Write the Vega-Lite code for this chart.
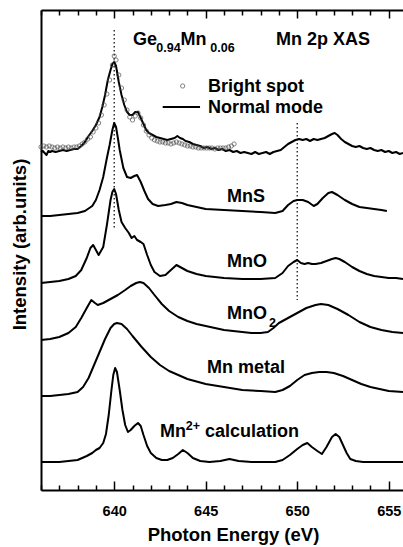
{
"$schema": "https://vega.github.io/schema/vega-lite/v6.json",
"width": 362, "height": 480,
"autosize": "none",
"padding": {"left": 41, "top": 10, "right": 0, "bottom": 57},
"background": "white",
"config": {"view": {"stroke": null}, "font": "Liberation Sans",
 "axis": {"domainColor": "black", "domainWidth": 2, "tickColor": "black", "labelColor": "black", "titleColor": "black", "grid": false, "labelFont": "Liberation Sans", "titleFont": "Liberation Sans", "labelFontWeight": "bold", "titleFontWeight": "bold"}},
"datasets": {
"curves": [
{"E":636.0,"I":338,"s":"ge"},{"E":636.1,"I":339,"s":"ge"},{"E":636.2,"I":337,"s":"ge"},{"E":636.3,"I":335,"s":"ge"},{"E":636.4,"I":339,"s":"ge"},{"E":636.5,"I":338,"s":"ge"},{"E":636.6,"I":339,"s":"ge"},{"E":636.8,"I":338,"s":"ge"},{"E":637.0,"I":339,"s":"ge"},{"E":637.2,"I":340,"s":"ge"},{"E":637.4,"I":339,"s":"ge"},{"E":637.6,"I":340,"s":"ge"},{"E":637.8,"I":341,"s":"ge"},{"E":638.0,"I":341,"s":"ge"},{"E":638.2,"I":344,"s":"ge"},{"E":638.4,"I":348,"s":"ge"},{"E":638.6,"I":354,"s":"ge"},{"E":638.8,"I":359,"s":"ge"},{"E":639.0,"I":365,"s":"ge"},{"E":639.2,"I":373,"s":"ge"},{"E":639.35,"I":383,"s":"ge"},{"E":639.5,"I":395,"s":"ge"},{"E":639.65,"I":410,"s":"ge"},{"E":639.8,"I":420,"s":"ge"},{"E":639.9,"I":426,"s":"ge"},{"E":640.0,"I":428,"s":"ge"},{"E":640.1,"I":424,"s":"ge"},{"E":640.25,"I":408,"s":"ge"},{"E":640.4,"I":395,"s":"ge"},{"E":640.55,"I":385,"s":"ge"},{"E":640.7,"I":378,"s":"ge"},{"E":640.85,"I":375,"s":"ge"},{"E":641.0,"I":375,"s":"ge"},{"E":641.15,"I":378,"s":"ge"},{"E":641.3,"I":378,"s":"ge"},{"E":641.45,"I":372,"s":"ge"},{"E":641.6,"I":366,"s":"ge"},{"E":641.75,"I":360,"s":"ge"},{"E":641.9,"I":357,"s":"ge"},{"E":642.1,"I":355,"s":"ge"},{"E":642.3,"I":353,"s":"ge"},{"E":642.5,"I":352,"s":"ge"},{"E":642.7,"I":351,"s":"ge"},{"E":642.9,"I":350,"s":"ge"},{"E":643.1,"I":351,"s":"ge"},{"E":643.3,"I":352,"s":"ge"},{"E":643.45,"I":354,"s":"ge"},{"E":643.6,"I":352,"s":"ge"},{"E":643.75,"I":351,"s":"ge"},{"E":643.9,"I":349,"s":"ge"},{"E":644.1,"I":348,"s":"ge"},{"E":644.3,"I":346,"s":"ge"},{"E":644.5,"I":345,"s":"ge"},{"E":644.7,"I":344,"s":"ge"},{"E":644.9,"I":342,"s":"ge"},{"E":645.1,"I":343,"s":"ge"},{"E":645.3,"I":341,"s":"ge"},{"E":645.5,"I":342,"s":"ge"},{"E":645.7,"I":340,"s":"ge"},{"E":645.9,"I":341,"s":"ge"},{"E":646.1,"I":339,"s":"ge"},{"E":646.3,"I":340,"s":"ge"},{"E":646.5,"I":338,"s":"ge"},{"E":646.7,"I":339,"s":"ge"},{"E":646.9,"I":337,"s":"ge"},{"E":647.1,"I":338,"s":"ge"},{"E":647.3,"I":337,"s":"ge"},{"E":647.5,"I":336,"s":"ge"},{"E":647.7,"I":338,"s":"ge"},{"E":647.9,"I":336,"s":"ge"},{"E":648.1,"I":337,"s":"ge"},{"E":648.3,"I":338,"s":"ge"},{"E":648.5,"I":336,"s":"ge"},{"E":648.7,"I":338,"s":"ge"},{"E":648.9,"I":339,"s":"ge"},{"E":649.1,"I":340,"s":"ge"},{"E":649.3,"I":343,"s":"ge"},{"E":649.5,"I":346,"s":"ge"},{"E":649.7,"I":348,"s":"ge"},{"E":649.9,"I":350,"s":"ge"},{"E":650.1,"I":351,"s":"ge"},{"E":650.3,"I":350,"s":"ge"},{"E":650.5,"I":351,"s":"ge"},{"E":650.7,"I":349,"s":"ge"},{"E":650.9,"I":351,"s":"ge"},{"E":651.1,"I":350,"s":"ge"},{"E":651.3,"I":351,"s":"ge"},{"E":651.5,"I":352,"s":"ge"},{"E":651.7,"I":354,"s":"ge"},{"E":651.9,"I":356,"s":"ge"},{"E":652.05,"I":357,"s":"ge"},{"E":652.2,"I":355,"s":"ge"},{"E":652.4,"I":351,"s":"ge"},{"E":652.6,"I":348,"s":"ge"},{"E":652.8,"I":346,"s":"ge"},{"E":653.0,"I":344,"s":"ge"},{"E":653.2,"I":343,"s":"ge"},{"E":653.4,"I":344,"s":"ge"},{"E":653.6,"I":342,"s":"ge"},{"E":653.8,"I":341,"s":"ge"},{"E":654.0,"I":342,"s":"ge"},{"E":654.2,"I":340,"s":"ge"},{"E":654.4,"I":339,"s":"ge"},{"E":654.6,"I":340,"s":"ge"},{"E":654.8,"I":338,"s":"ge"},{"E":655.0,"I":339,"s":"ge"},{"E":655.2,"I":337,"s":"ge"},{"E":655.4,"I":338,"s":"ge"},{"E":655.6,"I":336,"s":"ge"},{"E":655.78,"I":337,"s":"ge"},
{"E":636.0,"I":274,"s":"mns"},{"E":636.5,"I":274,"s":"mns"},{"E":637.0,"I":275,"s":"mns"},{"E":637.5,"I":276,"s":"mns"},{"E":638.0,"I":277,"s":"mns"},{"E":638.4,"I":279,"s":"mns"},{"E":638.8,"I":284,"s":"mns"},{"E":639.0,"I":290,"s":"mns"},{"E":639.2,"I":300,"s":"mns"},{"E":639.4,"I":313,"s":"mns"},{"E":639.6,"I":332,"s":"mns"},{"E":639.75,"I":345,"s":"mns"},{"E":639.9,"I":360,"s":"mns"},{"E":640.0,"I":367,"s":"mns"},{"E":640.1,"I":363,"s":"mns"},{"E":640.2,"I":352,"s":"mns"},{"E":640.3,"I":340,"s":"mns"},{"E":640.5,"I":322,"s":"mns"},{"E":640.7,"I":313,"s":"mns"},{"E":640.9,"I":312,"s":"mns"},{"E":641.1,"I":314,"s":"mns"},{"E":641.25,"I":315,"s":"mns"},{"E":641.45,"I":308,"s":"mns"},{"E":641.65,"I":299,"s":"mns"},{"E":641.85,"I":291,"s":"mns"},{"E":642.1,"I":286,"s":"mns"},{"E":642.4,"I":284,"s":"mns"},{"E":642.8,"I":285,"s":"mns"},{"E":643.1,"I":286,"s":"mns"},{"E":643.4,"I":288,"s":"mns"},{"E":643.7,"I":287,"s":"mns"},{"E":644.0,"I":285,"s":"mns"},{"E":644.5,"I":283,"s":"mns"},{"E":645.0,"I":281,"s":"mns"},{"E":646.0,"I":280,"s":"mns"},{"E":647.0,"I":279,"s":"mns"},{"E":648.0,"I":278,"s":"mns"},{"E":648.8,"I":277,"s":"mns"},{"E":649.2,"I":279,"s":"mns"},{"E":649.5,"I":285,"s":"mns"},{"E":649.8,"I":289,"s":"mns"},{"E":650.0,"I":290,"s":"mns"},{"E":650.3,"I":290,"s":"mns"},{"E":650.6,"I":288,"s":"mns"},{"E":650.9,"I":284,"s":"mns"},{"E":651.1,"I":286,"s":"mns"},{"E":651.4,"I":292,"s":"mns"},{"E":651.7,"I":297,"s":"mns"},{"E":651.9,"I":298,"s":"mns"},{"E":652.2,"I":295,"s":"mns"},{"E":652.6,"I":290,"s":"mns"},{"E":653.0,"I":286,"s":"mns"},{"E":653.4,"I":283,"s":"mns"},{"E":653.8,"I":282,"s":"mns"},{"E":654.2,"I":281,"s":"mns"},{"E":654.6,"I":280,"s":"mns"},{"E":654.9,"I":279,"s":"mns"},
{"E":636.0,"I":207,"s":"mno"},{"E":636.5,"I":208,"s":"mno"},{"E":637.0,"I":209,"s":"mno"},{"E":637.5,"I":211,"s":"mno"},{"E":637.9,"I":214,"s":"mno"},{"E":638.2,"I":220,"s":"mno"},{"E":638.5,"I":232,"s":"mno"},{"E":638.7,"I":242,"s":"mno"},{"E":638.85,"I":245,"s":"mno"},{"E":639.0,"I":240,"s":"mno"},{"E":639.15,"I":235,"s":"mno"},{"E":639.4,"I":243,"s":"mno"},{"E":639.6,"I":265,"s":"mno"},{"E":639.8,"I":290,"s":"mno"},{"E":639.9,"I":298,"s":"mno"},{"E":640.0,"I":301,"s":"mno"},{"E":640.1,"I":296,"s":"mno"},{"E":640.25,"I":280,"s":"mno"},{"E":640.4,"I":268,"s":"mno"},{"E":640.6,"I":262,"s":"mno"},{"E":640.8,"I":257,"s":"mno"},{"E":640.95,"I":252,"s":"mno"},{"E":641.1,"I":254,"s":"mno"},{"E":641.25,"I":250,"s":"mno"},{"E":641.45,"I":248,"s":"mno"},{"E":641.6,"I":246,"s":"mno"},{"E":641.8,"I":235,"s":"mno"},{"E":642.0,"I":225,"s":"mno"},{"E":642.2,"I":218,"s":"mno"},{"E":642.5,"I":214,"s":"mno"},{"E":642.8,"I":215,"s":"mno"},{"E":643.1,"I":220,"s":"mno"},{"E":643.4,"I":225,"s":"mno"},{"E":643.7,"I":222,"s":"mno"},{"E":644.0,"I":219,"s":"mno"},{"E":644.5,"I":216,"s":"mno"},{"E":645.0,"I":214,"s":"mno"},{"E":645.5,"I":213,"s":"mno"},{"E":646.0,"I":212,"s":"mno"},{"E":647.0,"I":211,"s":"mno"},{"E":648.0,"I":211,"s":"mno"},{"E":648.8,"I":212,"s":"mno"},{"E":649.2,"I":217,"s":"mno"},{"E":649.5,"I":224,"s":"mno"},{"E":649.8,"I":228,"s":"mno"},{"E":650.0,"I":230,"s":"mno"},{"E":650.2,"I":227,"s":"mno"},{"E":650.4,"I":226,"s":"mno"},{"E":650.6,"I":227,"s":"mno"},{"E":650.8,"I":226,"s":"mno"},{"E":651.0,"I":226,"s":"mno"},{"E":651.3,"I":227,"s":"mno"},{"E":651.6,"I":229,"s":"mno"},{"E":651.9,"I":231,"s":"mno"},{"E":652.1,"I":232,"s":"mno"},{"E":652.3,"I":231,"s":"mno"},{"E":652.6,"I":228,"s":"mno"},{"E":653.0,"I":223,"s":"mno"},{"E":653.4,"I":219,"s":"mno"},{"E":653.8,"I":216,"s":"mno"},{"E":654.2,"I":214,"s":"mno"},{"E":654.6,"I":213,"s":"mno"},{"E":655.0,"I":212,"s":"mno"},{"E":655.4,"I":212,"s":"mno"},{"E":655.78,"I":211,"s":"mno"},
{"E":636.0,"I":150,"s":"mno2"},{"E":636.5,"I":151,"s":"mno2"},{"E":637.0,"I":153,"s":"mno2"},{"E":637.5,"I":157,"s":"mno2"},{"E":637.9,"I":163,"s":"mno2"},{"E":638.2,"I":172,"s":"mno2"},{"E":638.5,"I":182,"s":"mno2"},{"E":638.75,"I":190,"s":"mno2"},{"E":638.95,"I":187,"s":"mno2"},{"E":639.1,"I":185,"s":"mno2"},{"E":639.4,"I":187,"s":"mno2"},{"E":639.8,"I":191,"s":"mno2"},{"E":640.2,"I":195,"s":"mno2"},{"E":640.6,"I":200,"s":"mno2"},{"E":640.9,"I":204,"s":"mno2"},{"E":641.2,"I":207,"s":"mno2"},{"E":641.4,"I":208,"s":"mno2"},{"E":641.6,"I":207,"s":"mno2"},{"E":641.9,"I":202,"s":"mno2"},{"E":642.2,"I":195,"s":"mno2"},{"E":642.6,"I":186,"s":"mno2"},{"E":643.0,"I":179,"s":"mno2"},{"E":643.5,"I":173,"s":"mno2"},{"E":644.0,"I":169,"s":"mno2"},{"E":644.5,"I":166,"s":"mno2"},{"E":645.0,"I":164,"s":"mno2"},{"E":645.5,"I":162,"s":"mno2"},{"E":646.0,"I":160,"s":"mno2"},{"E":646.5,"I":159,"s":"mno2"},{"E":647.0,"I":158,"s":"mno2"},{"E":647.5,"I":157,"s":"mno2"},{"E":648.0,"I":157,"s":"mno2"},{"E":648.4,"I":158,"s":"mno2"},{"E":648.7,"I":162,"s":"mno2"},{"E":649.0,"I":167,"s":"mno2"},{"E":649.5,"I":172,"s":"mno2"},{"E":650.0,"I":177,"s":"mno2"},{"E":650.5,"I":182,"s":"mno2"},{"E":651.0,"I":185,"s":"mno2"},{"E":651.3,"I":186,"s":"mno2"},{"E":651.7,"I":185,"s":"mno2"},{"E":652.2,"I":181,"s":"mno2"},{"E":652.8,"I":175,"s":"mno2"},{"E":653.4,"I":168,"s":"mno2"},{"E":654.0,"I":163,"s":"mno2"},{"E":654.6,"I":160,"s":"mno2"},{"E":655.2,"I":158,"s":"mno2"},{"E":655.78,"I":157,"s":"mno2"},
{"E":636.0,"I":94,"s":"mn"},{"E":636.5,"I":94,"s":"mn"},{"E":637.0,"I":95,"s":"mn"},{"E":637.5,"I":96,"s":"mn"},{"E":638.0,"I":98,"s":"mn"},{"E":638.3,"I":103,"s":"mn"},{"E":638.6,"I":112,"s":"mn"},{"E":638.9,"I":125,"s":"mn"},{"E":639.2,"I":138,"s":"mn"},{"E":639.5,"I":151,"s":"mn"},{"E":639.8,"I":162,"s":"mn"},{"E":640.0,"I":166,"s":"mn"},{"E":640.15,"I":167,"s":"mn"},{"E":640.4,"I":166,"s":"mn"},{"E":640.7,"I":161,"s":"mn"},{"E":641.0,"I":154,"s":"mn"},{"E":641.5,"I":143,"s":"mn"},{"E":642.0,"I":133,"s":"mn"},{"E":642.5,"I":125,"s":"mn"},{"E":643.0,"I":119,"s":"mn"},{"E":643.5,"I":115,"s":"mn"},{"E":644.0,"I":111,"s":"mn"},{"E":645.0,"I":106,"s":"mn"},{"E":646.0,"I":103,"s":"mn"},{"E":647.0,"I":100,"s":"mn"},{"E":648.0,"I":99,"s":"mn"},{"E":648.8,"I":98,"s":"mn"},{"E":649.2,"I":100,"s":"mn"},{"E":649.6,"I":104,"s":"mn"},{"E":650.0,"I":110,"s":"mn"},{"E":650.4,"I":115,"s":"mn"},{"E":650.8,"I":117,"s":"mn"},{"E":651.2,"I":118,"s":"mn"},{"E":651.6,"I":118,"s":"mn"},{"E":652.0,"I":117,"s":"mn"},{"E":652.5,"I":114,"s":"mn"},{"E":653.0,"I":110,"s":"mn"},{"E":653.5,"I":106,"s":"mn"},{"E":654.0,"I":103,"s":"mn"},{"E":654.5,"I":101,"s":"mn"},{"E":655.0,"I":99,"s":"mn"},{"E":655.78,"I":98,"s":"mn"},
{"E":636.0,"I":28,"s":"calc"},{"E":636.5,"I":28,"s":"calc"},{"E":637.0,"I":28,"s":"calc"},{"E":637.5,"I":29,"s":"calc"},{"E":638.0,"I":30,"s":"calc"},{"E":638.5,"I":34,"s":"calc"},{"E":638.8,"I":37,"s":"calc"},{"E":639.0,"I":40,"s":"calc"},{"E":639.2,"I":42,"s":"calc"},{"E":639.4,"I":47,"s":"calc"},{"E":639.55,"I":56,"s":"calc"},{"E":639.7,"I":75,"s":"calc"},{"E":639.85,"I":100,"s":"calc"},{"E":639.95,"I":115,"s":"calc"},{"E":640.05,"I":122,"s":"calc"},{"E":640.15,"I":118,"s":"calc"},{"E":640.3,"I":100,"s":"calc"},{"E":640.45,"I":80,"s":"calc"},{"E":640.6,"I":65,"s":"calc"},{"E":640.75,"I":58,"s":"calc"},{"E":640.9,"I":60,"s":"calc"},{"E":641.1,"I":64,"s":"calc"},{"E":641.3,"I":67,"s":"calc"},{"E":641.45,"I":64,"s":"calc"},{"E":641.6,"I":55,"s":"calc"},{"E":641.8,"I":44,"s":"calc"},{"E":642.0,"I":37,"s":"calc"},{"E":642.3,"I":32,"s":"calc"},{"E":642.6,"I":30,"s":"calc"},{"E":642.9,"I":30,"s":"calc"},{"E":643.2,"I":32,"s":"calc"},{"E":643.5,"I":36,"s":"calc"},{"E":643.75,"I":40,"s":"calc"},{"E":644.0,"I":37,"s":"calc"},{"E":644.3,"I":32,"s":"calc"},{"E":644.7,"I":29,"s":"calc"},{"E":645.2,"I":28,"s":"calc"},{"E":645.8,"I":29,"s":"calc"},{"E":646.3,"I":31,"s":"calc"},{"E":646.8,"I":29,"s":"calc"},{"E":647.5,"I":28,"s":"calc"},{"E":648.0,"I":28,"s":"calc"},{"E":648.8,"I":28,"s":"calc"},{"E":649.2,"I":30,"s":"calc"},{"E":649.6,"I":35,"s":"calc"},{"E":650.0,"I":41,"s":"calc"},{"E":650.3,"I":45,"s":"calc"},{"E":650.55,"I":47,"s":"calc"},{"E":650.8,"I":43,"s":"calc"},{"E":651.1,"I":39,"s":"calc"},{"E":651.35,"I":36,"s":"calc"},{"E":651.6,"I":43,"s":"calc"},{"E":651.9,"I":53,"s":"calc"},{"E":652.1,"I":56,"s":"calc"},{"E":652.3,"I":53,"s":"calc"},{"E":652.5,"I":45,"s":"calc"},{"E":652.7,"I":37,"s":"calc"},{"E":652.9,"I":31,"s":"calc"},{"E":653.2,"I":29,"s":"calc"},{"E":653.6,"I":28,"s":"calc"},{"E":654.5,"I":28,"s":"calc"},{"E":655.78,"I":28,"s":"calc"}
],
"bright": [
{"E":636.0,"I":343},{"E":636.15,"I":344},{"E":636.3,"I":343},{"E":636.45,"I":344},{"E":636.6,"I":343},{"E":636.75,"I":342},{"E":636.9,"I":343},{"E":637.05,"I":342},{"E":637.2,"I":343},{"E":637.35,"I":342},{"E":637.5,"I":343},{"E":637.65,"I":342},{"E":637.8,"I":343},{"E":637.95,"I":343},{"E":638.1,"I":344},{"E":638.25,"I":346},{"E":638.4,"I":348},{"E":638.55,"I":351},{"E":638.7,"I":353},{"E":638.85,"I":358},{"E":639.0,"I":362},{"E":639.15,"I":367},{"E":639.3,"I":375},{"E":639.45,"I":385},{"E":639.6,"I":396},{"E":639.75,"I":410},{"E":639.9,"I":425},{"E":640.0,"I":434},{"E":640.1,"I":430},{"E":640.25,"I":415},{"E":640.4,"I":402},{"E":640.55,"I":390},{"E":640.7,"I":380},{"E":640.85,"I":373},{"E":641.0,"I":370},{"E":641.15,"I":374},{"E":641.3,"I":377},{"E":641.45,"I":372},{"E":641.6,"I":365},{"E":641.75,"I":359},{"E":641.9,"I":355},{"E":642.05,"I":352},{"E":642.2,"I":350},{"E":642.35,"I":349},{"E":642.5,"I":348},{"E":642.65,"I":348},{"E":642.8,"I":347},{"E":642.95,"I":347},{"E":643.1,"I":346},{"E":643.25,"I":347},{"E":643.4,"I":348},{"E":643.55,"I":347},{"E":643.7,"I":346},{"E":643.85,"I":345},{"E":644.0,"I":344},{"E":644.15,"I":344},{"E":644.3,"I":343},{"E":644.45,"I":343},{"E":644.6,"I":342},{"E":644.75,"I":342},{"E":644.9,"I":342},{"E":645.05,"I":342},{"E":645.2,"I":342},{"E":645.35,"I":342},{"E":645.5,"I":341},{"E":645.65,"I":342},{"E":645.8,"I":342},{"E":645.95,"I":342},{"E":646.1,"I":342},{"E":646.25,"I":343},{"E":646.4,"I":344},{"E":646.55,"I":346}
],
"guides": [{"E":640,"I":460,"I2":260},{"E":650,"I":367,"I2":190}],
"legPoint": [{"E":643.74,"I":404}],
"legLine": [{"E":642.65,"I":383},{"E":644.69,"I":383}],
"bigText": [
{"E":641.03,"I":445,"t":"Ge"},{"E":643.62,"I":445,"t":"Mn"},{"E":648.84,"I":445,"t":"Mn 2p XAS"},{"E":645.13,"I":398,"t":"Bright spot"},{"E":645.13,"I":377,"t":"Normal mode"},{"E":646.16,"I":288,"t":"MnS"},{"E":646.16,"I":223,"t":"MnO"},{"E":646.16,"I":171,"t":"MnO"},{"E":645.07,"I":117,"t":"Mn metal"},{"E":642.5,"I":53,"t":"Mn"},{"E":644.96,"I":53,"t":"calculation"}
],
"smallText": [
{"E":642.3,"I":438,"t":"0.94"},{"E":645.25,"I":438,"t":"0.06"},{"E":648.46,"I":163,"t":"2"},{"E":643.91,"I":60,"t":"2+"}
]
},
"encoding": {
 "x": {"field": "E", "type": "quantitative", "scale": {"domain": [636, 655.78], "nice": false, "zero": false}, "axis": null},
 "y": {"field": "I", "type": "quantitative", "scale": {"domain": [0, 480], "nice": false, "zero": false},
   "axis": {"title": "Intensity (arb.units)", "ticks": false, "labels": false, "titleFontSize": 18.5, "titleX": -16, "titleY": 234, "titleAngle": -90, "titleAlign": "center", "titleBaseline": "alphabetic"}}
},
"layer": [
 {"data": {"name": "curves"}, "mark": {"type": "line", "color": "black", "strokeWidth": 2, "strokeJoin": "round"},
  "encoding": {
   "x": {"field": "E", "type": "quantitative", "scale": {"domain": [636, 655.78], "nice": false, "zero": false},
     "axis": {"orient": "bottom", "values": [636,637,638,639,640,641,642,643,644,645,646,647,648,649,650,651,652,653,654,655],
       "tickSize": {"condition": {"test": "datum.value % 5 === 0", "value": -9}, "value": -5}, "tickWidth": 1.5,
       "labelExpr": "datum.value % 5 === 0 ? datum.label : ''", "labelOverlap": false, "labelFlush": false,
       "labelFontSize": 14.5, "labelPadding": 23,
       "title": "Photon Energy (eV)", "titleFontSize": 18.5, "titleX": 192, "titleY": 50, "titleBaseline": "alphabetic", "titleAlign": "center"}},
   "detail": {"field": "s"}}},
 {"data": {"name": "guides"}, "mark": {"type": "rule", "color": "black", "strokeWidth": 1.2, "strokeDash": [1.5, 2.5]},
  "encoding": {
   "x": {"field": "E", "type": "quantitative", "scale": {"domain": [636, 655.78], "nice": false, "zero": false},
     "axis": {"orient": "top", "values": [636,637,638,639,640,641,642,643,644,645,646,647,648,649,650,651,652,653,654,655],
       "tickSize": {"condition": {"test": "datum.value % 5 === 0", "value": -8}, "value": -5}, "tickWidth": 1.5,
       "labels": false, "title": null}},
   "y2": {"field": "I2"}}},
 {"data": {"name": "bright"}, "mark": {"type": "point", "shape": "circle", "filled": false, "size": 18, "stroke": "#4d4d4d", "strokeWidth": 1}},
 {"data": {"name": "legPoint"}, "mark": {"type": "point", "shape": "circle", "filled": false, "size": 18, "stroke": "#4d4d4d", "strokeWidth": 1}},
 {"data": {"name": "legLine"}, "mark": {"type": "line", "color": "black", "strokeWidth": 2}},
 {"data": {"name": "bigText"}, "mark": {"type": "text", "align": "left", "baseline": "alphabetic", "font": "Liberation Sans", "fontWeight": "bold", "fontSize": 18, "color": "black"},
  "encoding": {"text": {"field": "t"}}},
 {"data": {"name": "smallText"}, "mark": {"type": "text", "align": "left", "baseline": "alphabetic", "font": "Liberation Sans", "fontWeight": "bold", "fontSize": 12.5, "color": "black"},
  "encoding": {"text": {"field": "t"}}}
],
"resolve": {"axis": {"x": "independent"}}
}
